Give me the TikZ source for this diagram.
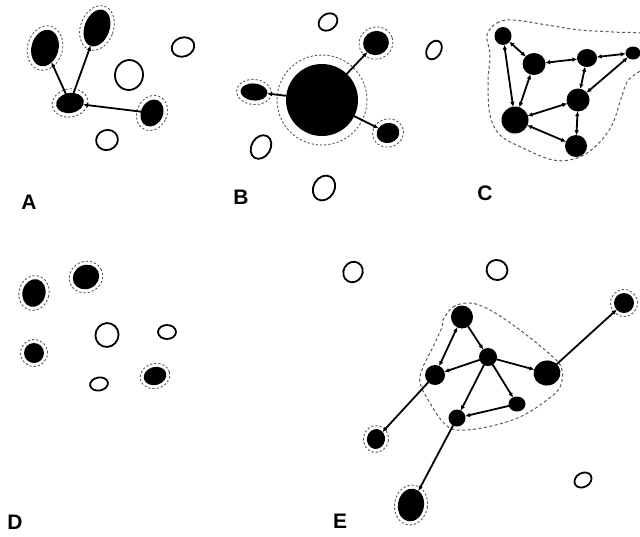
\documentclass[tikz,border=0pt]{standalone}
\usepackage{fontspec}
\setmainfont{Liberation Sans}
\usetikzlibrary{shapes.geometric,arrows.meta}
\tikzset{
  cell/.style={ellipse,inner sep=0pt,fill=black,draw=none},
  halo/.style={ellipse,inner sep=0pt,draw=black!65,line width=0.9pt,dash pattern=on 2.2pt off 2pt},
  opencell/.style={ellipse,inner sep=0pt,draw=black,line width=1.8pt,fill=white},
  link/.style={line width=1.8pt,shorten <=-0.5pt,shorten >=-0.5pt},
  tip/.style={-{Latex[length=5pt,width=4.5pt]}},
  bitip/.style={{Latex[length=5pt,width=4.5pt]}-{Latex[length=5pt,width=4.5pt]}},
  outline/.style={draw=black!65,line width=1pt,dash pattern=on 3pt off 2.5pt},
  lab/.style={font=\fontsize{21}{21}\selectfont\bfseries,inner sep=0pt}
}
% #1 name, #2 position, #3 width, #4 height, #5 rotation, #6 halo margin
\newcommand\hcell[6]{%
  \node[halo,minimum width=#3pt+#6pt,minimum height=#4pt+#6pt,rotate=#5] (#1h) at (#2) {};
  \node[cell,minimum width=#3pt,minimum height=#4pt,rotate=#5] (#1) at (#2) {};}
\newcommand\pcell[5]{%
  \node[cell,minimum width=#3pt,minimum height=#4pt,rotate=#5] (#1) at (#2) {};}
\newcommand\ocell[5]{%
  \node[opencell,minimum width=#3pt,minimum height=#4pt,rotate=#5] (#1) at (#2) {};}
\begin{document}
\begin{tikzpicture}[x=1pt,y=-1pt]
\useasboundingbox[fill=white] (0,0) rectangle (640,536);
% ---------- A ----------
\hcell{a1}{45,48}{27}{37}{-15}{8}
\hcell{a2}{97,28}{25}{38}{-20}{8}
\hcell{a3}{70,103}{28}{20}{10}{8}
\hcell{a4}{152,113}{22}{28}{-25}{8}
\ocell{ao1}{129,75}{28}{30}{-10}
\ocell{ao2}{183,47}{23}{19}{20}
\ocell{ao3}{107,140}{22}{20}{20}
\draw[link,tip] (a3) -- (a1);
\draw[link,tip] (a3) -- (a2);
\draw[link,tip] (a4) -- (a3);
\node[lab] (la) at (29,202) {A};
% ---------- B ----------
\hcell{b0}{322,100}{72}{72}{0}{18}
\hcell{b1}{376,43}{26}{24}{20}{8}
\hcell{b2}{254,92}{27}{17}{-5}{8}
\hcell{b3}{388,133}{23}{20}{15}{8}
\ocell{bo1}{328,22}{20}{16}{35}
\ocell{bo2}{434,50}{14}{20}{-30}
\ocell{bo3}{261,147}{19}{25}{-30}
\ocell{bo4}{324,188}{21}{26}{-30}
\draw[link,tip] (b0) -- (b1);
\draw[link,tip] (b0) -- (b2);
\draw[link,tip] (b0) -- (b3);
\node[lab] (lb) at (241,197) {B};
% ---------- C ----------
\draw[outline] plot[smooth cycle,tension=0.6] coordinates {(487,35) (497,23) (513,20) (547,25) (580,30) (613,32) (650,36) (652,62) (637,73) (627,82) (620,102) (612,125) (597,145) (577,158) (553,160) (523,148) (500,135) (490,115) (488,82) (490,55)};
\pcell{c1}{503,36}{17}{18}{0}
\pcell{c2}{534,64}{23}{22}{0}
\pcell{c3}{587,58}{20}{18}{0}
\pcell{c4}{633,53}{15}{13}{0}
\pcell{c5}{578,100}{23}{23}{0}
\pcell{c6}{515,120}{27}{27}{0}
\pcell{c7}{576,146}{22}{22}{0}
\draw[link,bitip] (c1) -- (c6);
\draw[link,bitip] (c1) -- (c2);
\draw[link,bitip] (c2) -- (c6);
\draw[link,bitip] (c2) -- (c3);
\draw[link,bitip] (c3) -- (c4);
\draw[link,bitip] (c3) -- (c5);
\draw[link,bitip] (c4) -- (c5);
\draw[link,bitip] (c5) -- (c6);
\draw[link,bitip] (c5) -- (c7);
\draw[link,bitip] (c6) -- (c7);
\node[lab] (lc) at (485,193) {C};
% ---------- D ----------
\hcell{d1}{34,293}{23}{28}{-15}{7}
\hcell{d2}{86,277}{27}{24}{25}{7}
\hcell{d3}{34,353}{20}{20}{0}{7}
\hcell{d4}{155,376}{23}{18}{15}{7}
\ocell{do1}{107,335}{23}{24}{-20}
\ocell{do2}{167,332}{18}{14}{0}
\ocell{do3}{99,384}{18}{13}{10}
\node[lab] (ld) at (15,522) {D};
% ---------- E ----------
\draw[outline] plot[smooth cycle,tension=0.6] coordinates {(443,320) (453,307) (470,303) (490,310) (520,330) (553,357) (562,370) (560,387) (547,400) (520,417) (487,427) (457,430) (443,422) (430,403) (420,383) (423,367) (433,347) (442,327)};
\ocell{eo1}{353,272}{19}{21}{-30}
\ocell{eo2}{497,270}{21}{20}{-20}
\ocell{eo3}{583,480}{18}{14}{30}
\pcell{e1}{462,317}{22}{23}{0}
\pcell{e2}{488,357}{18}{18}{0}
\pcell{e3}{435,375}{20}{20}{0}
\pcell{e4}{547,373}{27}{25}{10}
\pcell{e5}{517,404}{17}{15}{0}
\pcell{e6}{457,418}{17}{17}{0}
\hcell{e7}{624,303}{20}{20}{0}{7}
\hcell{e8}{376,439}{18}{20}{-10}{7}
\hcell{e9}{411,505}{26}{33}{-10}{7}
\draw[link,bitip] (e1) -- (e3);
\draw[link,tip] (e1) -- (e2);
\draw[link,tip] (e2) -- (e3);
\draw[link,tip] (e2) -- (e4);
\draw[link,tip] (e2) -- (e6);
\draw[link,tip] (e2) -- (e5);
\draw[link,tip] (e5) -- (e6);
\draw[link,tip] (e3) -- (e8);
\draw[link,tip] (e6) -- (e9);
\draw[link,tip] (e4) -- (e7);
\node[lab] (le) at (340,521) {E};
\end{tikzpicture}
\end{document}
